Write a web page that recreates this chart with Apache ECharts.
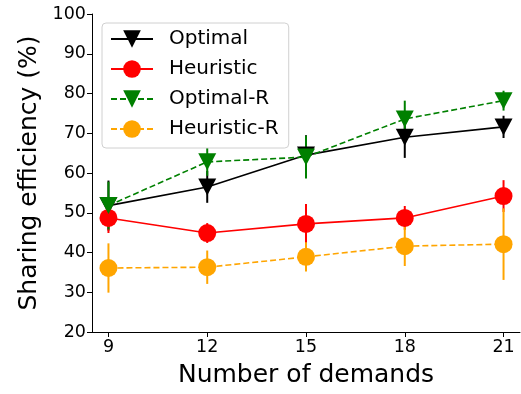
<!DOCTYPE html>
<html>
<head>
<meta charset="utf-8">
<script src="https://cdn.jsdelivr.net/npm/echarts@6/dist/echarts.min.js"></script>
<style>
  html, body { margin: 0; padding: 0; background: #fff; }
  #chart { width: 521px; height: 394px; }
</style>
</head>
<body>
<div id="chart"></div>
<script>
// data
const demands = [9, 12, 15, 18, 21];
const yTicks = [20, 30, 40, 50, 60, 70, 80, 90, 100];

const optimal = [51.8, 56.5, 64.5, 69.0, 71.6];
const optimalErr = [6.3, 4.0, 5.0, 5.2, 2.8];
const heuristic = [48.7, 44.9, 47.2, 48.7, 54.2];
const heuristicErr = [3.8, 2.5, 5.0, 3.0, 4.0];
const optimalR = [51.8, 62.8, 64.0, 73.6, 78.2];
const optimalRErr = [6.0, 3.5, 5.4, 4.6, 2.5];
const heuristicR = [36.1, 36.3, 38.9, 41.6, 42.1];
const heuristicRErr = [6.2, 4.2, 3.7, 5.0, 9.0];

const font = 'DejaVu Sans';

function pairs(ys) {
    return demands.map((x, i) => [x, ys[i]]);
}

// vertical error bars, drawn behind the markers
function errorBars(name, ys, errs, color) {
    return {
        name: name + ' err',
        type: 'custom',
        z: 1,
        silent: true,
        data: demands.map((x, i) => [x, ys[i] - errs[i], ys[i] + errs[i]]),
        renderItem: function (params, api) {
            const lo = api.coord([api.value(0), api.value(1)]);
            const hi = api.coord([api.value(0), api.value(2)]);
            return {
                type: 'line',
                shape: {x1: lo[0], y1: lo[1], x2: hi[0], y2: hi[1]},
                style: {stroke: color, lineWidth: 2}
            };
        }
    };
}

function lineSeries(name, ys, color, symbol, dashed) {
    const tri = symbol === 'triangle';
    return {
        name: name,
        type: 'line',
        z: 3,
        data: pairs(ys),
        symbol: symbol,
        symbolSize: tri ? [18, 17] : 18,
        symbolRotate: tri ? 180 : 0,
        symbolKeepAspect: true,
        showAllSymbol: true,
        itemStyle: {color: color, opacity: 1},
        lineStyle: {color: color, width: 1.6, type: dashed ? [6, 3] : 'solid'},
        emphasis: {disabled: true}
    };
}

const chart = echarts.init(document.getElementById('chart'));
chart.setOption({
    animation: false,
    textStyle: {fontFamily: font},
    grid: {left: 92, top: 14, width: 428, height: 318, containLabel: false},
    legend: {
        left: 102,
        top: 23,
        orient: 'vertical',
        padding: [5, 10, 8, 8],
        itemGap: 8,
        itemWidth: 42,
        itemHeight: 22,
        backgroundColor: '#fff',
        borderColor: '#d0d0d0',
        borderWidth: 1,
        borderRadius: 4,
        textStyle: {fontFamily: font, fontSize: 20, lineHeight: 22, color: '#000', padding: [0, 0, 0, 11]},
        data: ['Optimal', 'Heuristic', 'Optimal-R', 'Heuristic-R']
    },
    xAxis: {
        type: 'value',
        min: 8.5,
        max: 21.5,
        name: 'Number of demands',
        nameLocation: 'middle',
        nameGap: 31,
        nameTextStyle: {fontFamily: font, fontSize: 25, color: '#000'},
        splitLine: {show: false},
        axisLine: {show: true, onZero: false, lineStyle: {color: '#000', width: 1}},
        axisTick: {show: true, customValues: demands, length: 5, lineStyle: {color: '#000'}},
        axisLabel: {customValues: demands, fontFamily: font, fontSize: 17.5, color: '#000', margin: 6}
    },
    yAxis: {
        type: 'value',
        min: 20,
        max: 100,
        interval: 10,
        name: 'Sharing efficiency (%)',
        nameLocation: 'middle',
        nameGap: 50,
        nameTextStyle: {fontFamily: font, fontSize: 25, color: '#000'},
        splitLine: {show: false},
        axisLine: {show: true, lineStyle: {color: '#000', width: 1}},
        axisTick: {show: true, customValues: yTicks, length: 5, lineStyle: {color: '#000'}},
        axisLabel: {customValues: yTicks, fontFamily: font, fontSize: 17.5, color: '#000', margin: 6}
    },
    series: [
        errorBars('Optimal', optimal, optimalErr, '#000000'),
        errorBars('Heuristic', heuristic, heuristicErr, '#ff0000'),
        errorBars('Optimal-R', optimalR, optimalRErr, '#008000'),
        errorBars('Heuristic-R', heuristicR, heuristicRErr, '#ffa500'),
        lineSeries('Optimal', optimal, '#000000', 'triangle', false),
        lineSeries('Heuristic', heuristic, '#ff0000', 'circle', false),
        lineSeries('Optimal-R', optimalR, '#008000', 'triangle', true),
        lineSeries('Heuristic-R', heuristicR, '#ffa500', 'circle', true)
    ]
});
</script>
</body>
</html>
